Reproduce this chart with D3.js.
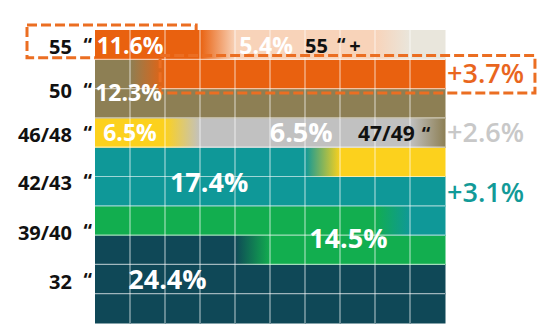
<!DOCTYPE html>
<html><head><meta charset="utf-8">
<script src="https://cdn.jsdelivr.net/npm/d3@7"></script>
<style>
body{margin:0;background:#fff}
svg{display:block}
text{font-family:"Open Sans","Noto Sans",sans-serif}
</style>
</head><body>
<svg id="chart" width="550" height="327"></svg>
<script>
// ---- data (filled bottom-to-top, left-to-right in a 10x10 grid of 1% cells) ----
const categories = ["32", "39/40", "42/43", "46/48", "47/49", "50", "55", "55+", "other"];
const shares     = [24.4, 14.5, 17.4, 6.5, 6.5, 12.3, 11.6, 5.4, 1.4];
const colors     = ["#0f4857", "#12ae4f", "#0f9898", "#fcd11d", "#c1c1c1", "#8d7f54", "#e9610f", "#f8d3b9", "#e9e6dc"];
const valueLabels = ["24.4%", "14.5%", "17.4%", "6.5%", "6.5%", "12.3%", "11.6%", "5.4%", ""];
const axisLabels  = ["55", "50", "46/48", "42/43", "39/40", "32"];
const changeCats   = ["55", "47/49", "42/43"];
const changeLabels = ["+3.7%", "+2.6%", "+3.1%"];
const changeColors = ["#e9661e", "#c8c8c8", "#129a98"];

// ---- layout (grid units: columns 0..10, rows 0..10 from bottom) ----
const x = d3.scaleLinear().domain([0, 10]).range([95, 445]);
const y = d3.scaleLinear().domain([0, 10]).range([323, 30]);
const valuePos = { // [col, row, size]
  "32": [2.07, 1.5, 27], "39/40": [7.24, 2.9, 27], "42/43": [3.26, 4.81, 27],
  "46/48": [1.0, 6.5, 23], "47/49": [5.89, 6.52, 27], "50": [0.96, 7.87, 23],
  "55": [1.0, 9.47, 23], "55+": [4.89, 9.47, 23]
};
const axisPos = [9.44, 7.92, 6.43, 4.79, 3.09, 1.42];
const changePos = [8.53, 6.5, 4.45];

const svg = d3.select("#chart");
const defs = svg.append("defs");

// cumulative extents
let acc = 0;
const segs = shares.map((v, i) => { const s = { i, start: acc, end: acc + v }; acc += v; return s; });

// dashed box behind the chart (left "55" box)
const dash = "10,4";
svg.append("rect")
  .attr("x", 27).attr("y", 25)
  .attr("width", x(2.89) - 27).attr("height", y(9.05) - 25)
  .attr("fill", "none").attr("stroke", "#eb6e22").attr("stroke-width", 3)
  .attr("stroke-dasharray", dash);

// cells
const cells = [];
for (let r = 0; r < 10; r++) for (let c = 0; c < 10; c++) {
  const a = r * 10 + c, b = a + 1;
  const hit = segs.filter(s => s.end > a + 1e-9 && s.start < b - 1e-9);
  cells.push({ r, c, hit });
}
const g = svg.append("g");
g.selectAll("rect.cell").data(cells).join("rect")
  .attr("class", "cell")
  .attr("x", d => x(d.c)).attr("y", d => y(d.r + 1))
  .attr("width", x(1) - x(0) + 0.5).attr("height", y(0) - y(1) + 0.5)
  .attr("fill", d => {
    if (d.hit.length === 1) return colors[d.hit[0].i];
    const id = `g${d.r}_${d.c}`;
    const lg = defs.append("linearGradient").attr("id", id)
      .attr("x1", 0).attr("x2", 1).attr("y1", 0).attr("y2", 0);
    lg.append("stop").attr("offset", 0).attr("stop-color", colors[d.hit[0].i]);
    lg.append("stop").attr("offset", 1).attr("stop-color", colors[d.hit[d.hit.length - 1].i]);
    return `url(#${id})`;
  });

// grid lines
const gl = svg.append("g").attr("stroke", "rgba(255,255,255,0.6)").attr("stroke-width", 1.2);
gl.selectAll("line.v").data(d3.range(1, 10)).join("line")
  .attr("x1", d => x(d)).attr("x2", d => x(d)).attr("y1", y(10)).attr("y2", y(0));
gl.selectAll("line.h").data(d3.range(1, 10)).join("line")
  .attr("y1", d => y(d)).attr("y2", d => y(d)).attr("x1", x(0)).attr("x2", x(10));

// dashed box over the chart (+3.7%)
svg.append("rect")
  .attr("x", x(1.86)).attr("y", y(9.13))
  .attr("width", x(12.57) - x(1.86)).attr("height", y(7.85) - y(9.13))
  .attr("fill", "none").attr("stroke", "#eb6e22").attr("stroke-width", 3)
  .attr("stroke-dasharray", dash);

// value labels
categories.forEach((cat, i) => {
  if (!valueLabels[i]) return;
  const p = valuePos[cat];
  svg.append("text")
    .attr("x", x(p[0])).attr("y", y(p[1])).attr("dy", "0.36em")
    .attr("text-anchor", "middle").attr("font-weight", 700)
    .attr("font-size", p[2]).attr("fill", "#fff")
    .text(valueLabels[i]);
});

// axis labels (left)
axisLabels.forEach((lab, i) => {
  svg.append("text")
    .attr("x", x(-0.66)).attr("y", y(axisPos[i])).attr("dy", "0.36em")
    .attr("text-anchor", "end").attr("font-weight", 700)
    .attr("font-size", 20).attr("fill", "#111").text(lab);
  svg.append("text")
    .attr("x", x(-0.33)).attr("y", y(axisPos[i])).attr("dy", "0.3em")
    .attr("font-weight", 700).attr("font-size", 19).attr("fill", "#111").text("\u201C");
});

// in-chart black labels
const t1 = svg.append("text").attr("x", 305).attr("y", y(9.47)).attr("dy", "0.36em")
  .attr("font-weight", 700).attr("font-size", 20).attr("fill", "#111");
t1.append("tspan").text("55");
t1.append("tspan").attr("dx", 9).attr("font-size", 19).attr("dy", "-0.05em").text("\u201C");
t1.append("tspan").attr("dx", 4).attr("dy", "0.05em").text("+");

const t2 = svg.append("text").attr("x", 358).attr("y", y(6.47)).attr("dy", "0.36em")
  .attr("font-weight", 700).attr("font-size", 21).attr("fill", "#111");
t2.append("tspan").text("47/49");
t2.append("tspan").attr("dx", 7).attr("font-size", 19).text("\u201C");

// change annotations (right)
changeLabels.forEach((lab, i) => {
  svg.append("text")
    .attr("x", x(10.06)).attr("y", y(changePos[i])).attr("dy", "0.36em")
    .attr("font-weight", 600).attr("font-size", 27).attr("fill", changeColors[i])
    .text(lab);
});
</script>
</body></html>
